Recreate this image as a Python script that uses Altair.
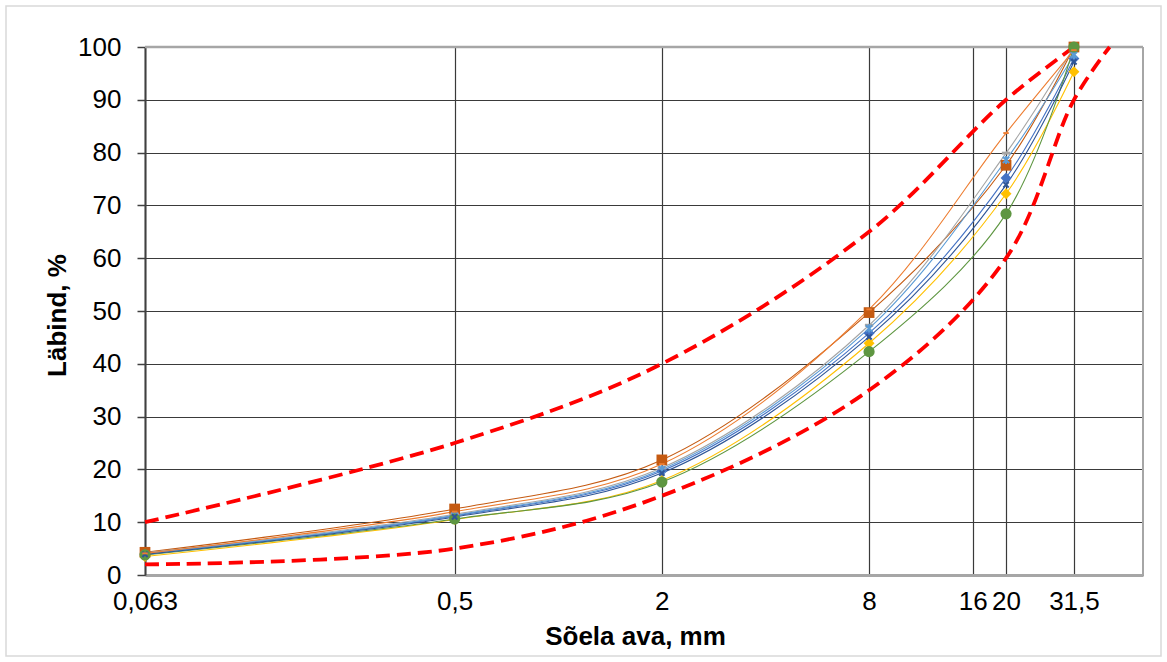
import altair as alt
import pandas as pd

FONT = "Liberation Sans"

# ---- data ----
sieves = [0.063, 0.5, 2, 8, 20, 31.5]
series_names = ["S1", "S2", "S3", "S4", "S5", "S6", "S7", "S8"]
s1 = [4.0, 11.2, 19.7, 45.8, 75.2, 97.8]   # blue diamond
s2 = [4.3, 12.5, 21.8, 49.7, 77.6, 100.0]  # dark orange square
s3 = [4.2, 11.5, 20.3, 47.3, 79.9, 100.0]  # gray dash
s4 = [3.5, 10.5, 17.9, 43.9, 72.2, 95.3]   # yellow diamond
s5 = [4.0, 11.3, 20.0, 46.7, 78.6, 98.5]   # light blue star
s6 = [3.8, 10.6, 17.6, 42.3, 68.4, 100.0]  # green circle
s7 = [3.9, 11.0, 19.3, 45.1, 73.9, 97.2]   # dark blue x
s8 = [4.1, 12.0, 21.0, 50.3, 83.7, 99.4]   # orange small dash
series_values = [s1, s2, s3, s4, s5, s6, s7, s8]

upper_x = [0.063, 0.5, 2, 8, 20, 31.5]
upper_y = [10, 25, 40, 65, 90, 100]
lower_x = [0.063, 0.5, 2, 8, 20, 31.5, 40]
lower_y = [2, 5, 15, 35, 60, 90, 100]

x_ticks = [0.063, 0.5, 2, 8, 16, 20, 31.5]
y_ticks = list(range(0, 101, 10))

# ---- styles ----
colors = ["#4472C4", "#C55A11", "#A5A5A5", "#FFC000", "#5B9BD5", "#5E9641", "#2F5597", "#ED7D31"]
DASH = "M-1,-0.35L1,-0.35L1,0.35L-1,0.35Z"
XPATH = "M-1,-1L1,1M-1,1L1,-1"
STAR = "M-1,-1L1,1M-1,1L1,-1M0,-1.3L0,1.3"
marker_styles = [
    dict(shape="diamond", size=120, filled=True),
    dict(shape="square", size=115, filled=True),
    dict(shape=DASH, size=70, filled=True),
    dict(shape="diamond", size=120, filled=True),
    dict(shape=STAR, size=40, filled=False, strokeWidth=2),
    dict(shape="circle", size=125, filled=True),
    dict(shape=XPATH, size=28, filled=False, strokeWidth=2),
    dict(shape=DASH, size=30, filled=True),
]

rows = []
for name, vals in zip(series_names, series_values):
    for s, v in zip(sieves, vals):
        rows.append({"sieve": s, "pct": v, "series": name})
df = pd.DataFrame(rows)

env_rows = [{"sieve": a, "pct": b, "env": "upper"} for a, b in zip(upper_x, upper_y)]
env_rows += [{"sieve": a, "pct": b, "env": "lower"} for a, b in zip(lower_x, lower_y)]
env_df = pd.DataFrame(env_rows)

W, H = 998, 528

x_scale = alt.Scale(type="log", domain=[0.063, 50], nice=False, zero=False)
y_scale = alt.Scale(domain=[0, 100], nice=False, zero=True)

x_axis = alt.Axis(
    values=x_ticks,
    labelExpr="replace(toString(datum.value), '.', ',')",
    grid=True, gridColor="#3a3a3a", gridWidth=1.2,
    ticks=False,
    domainColor="#a6a6a6", domainWidth=3,
    labelFont=FONT, labelFontSize=26, labelColor="black", labelPadding=13,
    labelOverlap=False, labelFlush=False, labelBound=False,
    title="Sõela ava, mm", titleFont=FONT, titleFontSize=26, titleFontWeight="bold",
    titleColor="black", titleX=490, titleY=61, titleBaseline="middle", titleAlign="center",
)
y_axis = alt.Axis(
    values=y_ticks,
    grid=True, gridColor="#3a3a3a", gridWidth=1.2,
    tickColor="#404040", tickSize=8, tickWidth=1.5,
    domainColor="#404040", domainWidth=2,
    labelFont=FONT, labelFontSize=26, labelColor="black", labelPadding=16,
    labelFlush=False,
    title="Läbind, %", titleFont=FONT, titleFontSize=26, titleFontWeight="bold",
    titleColor="black", titleX=-88, titleY=268, titleAngle=270,
    titleBaseline="middle", titleAlign="center",
)


def xenc():
    return alt.X("sieve:Q", scale=x_scale, axis=x_axis)


def yenc():
    return alt.Y("pct:Q", scale=y_scale, axis=y_axis)


dummy = pd.DataFrame({"d": [0]})

frame = alt.Chart(dummy).mark_rect(fill="transparent", stroke="#d9d9d9", strokeWidth=1.5).encode(
    x=alt.value(-139), x2=alt.value(1016), y=alt.value(-41), y2=alt.value(609)
)

envelopes = alt.Chart(env_df).mark_line(
    color="#FF0000", strokeWidth=3.8, strokeDash=[14, 7], interpolate="catmull-rom"
).encode(x=xenc(), y=yenc(), detail="env:N")

lines = alt.Chart(df).mark_line(strokeWidth=1.1, interpolate="catmull-rom").encode(
    x=xenc(), y=yenc(),
    color=alt.Color("series:N", scale=alt.Scale(domain=series_names, range=colors), legend=None),
)

top_rule = alt.Chart(dummy).mark_rule(color="#a6a6a6", strokeWidth=2.5).encode(
    x=alt.value(0), x2=alt.value(W), y=alt.value(0)
)
right_rule = alt.Chart(dummy).mark_rule(color="#a6a6a6", strokeWidth=2).encode(
    x=alt.value(W), y=alt.value(0), y2=alt.value(H)
)

points = []
for name, col, st in zip(series_names, colors, marker_styles):
    p = alt.Chart(df).transform_filter(alt.datum.series == name).mark_point(
        color=col, opacity=1, **st
    ).encode(x=xenc(), y=yenc())
    points.append(p)

chart = alt.layer(frame, top_rule, right_rule, envelopes, lines, *points).properties(
    width=W, height=H,
    autosize=alt.AutoSizeParams(type="none"),
    padding={"left": 145, "top": 47, "right": 24, "bottom": 87},
    background="white",
).configure_view(stroke="transparent")

chart.save("out.html", embed_options={"renderer": "svg", "actions": False})
